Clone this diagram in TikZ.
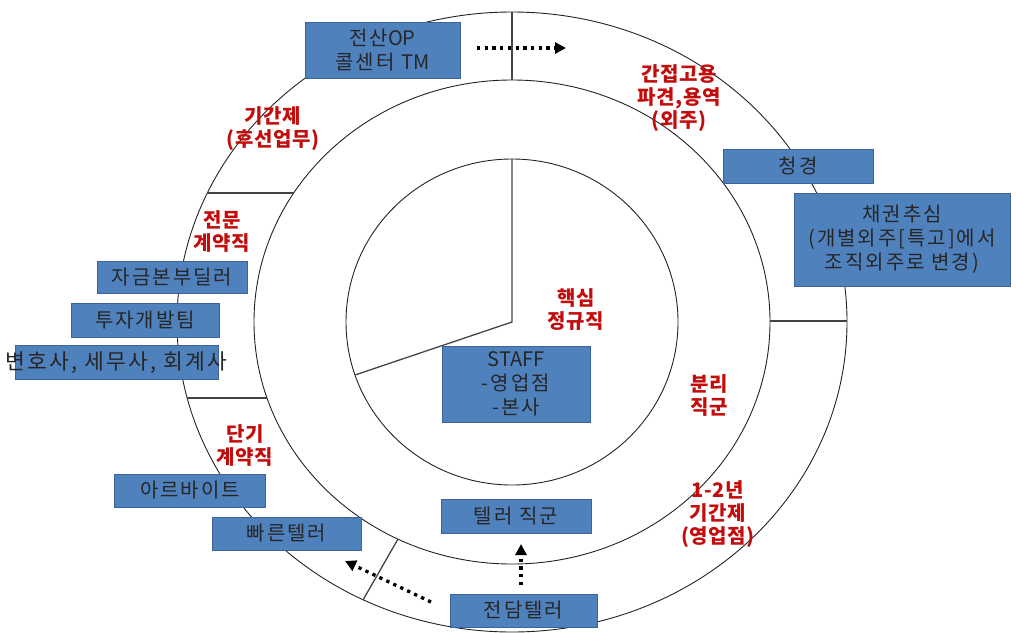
\documentclass[tikz,border=0pt]{standalone}
\usepackage{fontspec}
\setmainfont{Noto Sans CJK KR}[LetterSpace=10]
\newfontfamily\redfont{Noto Sans CJK KR}[LetterSpace=3]
\newfontfamily\latfont{Noto Sans CJK KR}
\newcommand{\lat}[1]{{\latfont #1}}
\usetikzlibrary{arrows.meta}
\definecolor{boxblue}{RGB}{79,129,189}
\definecolor{boxedge}{RGB}{60,100,155}
\definecolor{lbred}{RGB}{195,12,12}
\definecolor{ringgray}{RGB}{35,35,35}
\tikzset{
  blbox/.style={draw=boxedge, line width=0.6pt, fill=boxblue, text=black!85, inner sep=0pt, align=center, font=\fontsize{20}{24}\selectfont},
  rlabel/.style={text=lbred, align=center, inner sep=0pt, font=\redfont\bfseries\fontsize{20}{23}\selectfont},
  ring/.style={draw=ringgray, line width=0.9pt},
  sepline/.style={draw=ringgray!85, line width=1.3pt},
  dotarrow/.style={line width=3.3pt, dash pattern=on 3.3pt off 4.4pt, -{Triangle[length=11pt,width=11pt]}}
}
\begin{document}
\begin{tikzpicture}[x=1pt,y=-1pt]
\useasboundingbox (0,0) rectangle (1016,632);
\coordinate (c) at (512,322);
% rings
\draw[ring] (c) ellipse [x radius=335pt, y radius=310pt];
\draw[ring] (c) ellipse [x radius=258pt, y radius=242pt];
\draw[ring] (c) ellipse [x radius=166pt, y radius=163pt];
% separators in outer ring
\draw[sepline] (512,12) -- (512,80);
\draw[sepline] (207.4,193) -- (293.7,193);
\draw[sepline] (187.2,398) -- (267.1,398);
\draw[sepline] (770,321) -- (847,321);
\draw[sepline] (363,600) -- (398,539);
% inner pie lines
\draw[sepline] (512,159) -- (c) -- (355,375);
% boxes
\node[blbox, minimum width=155pt, minimum height=56pt] (jeonsan) at (382.5,50) {전산\lat{OP}\\콜센터 \lat{TM}};
\node[blbox, minimum width=150pt, minimum height=34pt] (cheong) at (798,166) {청경};
\node[blbox, minimum width=216pt, minimum height=93pt] (chae) at (902,239.5) {채권추심\\(개별외주[특고]에서\\조직외주로 변경)};
\node[blbox, minimum width=150pt, minimum height=32pt] (jageum) at (172,277) {자금본부딜러};
\node[blbox, minimum width=148pt, minimum height=34pt] (tuja) at (145,320) {투자개발팀};
\node[blbox, minimum width=203pt, minimum height=34pt] (byeon) at (116.5,362.5) {\makebox[0pt][c]{\fontsize{21.5}{24}\selectfont 변호사, 세무사, 회계사}};
\node[blbox, minimum width=148pt, minimum height=76pt] (staff) at (516,384) {\lat{STAFF}\\-영업점\\-본사};
\node[blbox, minimum width=151pt, minimum height=33pt] (arbeit) at (190,490.5) {아르바이트};
\node[blbox, minimum width=149pt, minimum height=33pt] (ppareun) at (286.5,533.5) {빠른텔러};
\node[blbox, minimum width=150pt, minimum height=34pt] (teller) at (516,516) {텔러 직군};
\node[blbox, minimum width=147pt, minimum height=33pt] (jeondam) at (523.5,610.5) {전담텔러};
% red labels
\node[rlabel] (l1) at (273,129) {기간제\\(후선업무)};
\node[rlabel] (l2) at (679,98.5) {간접고용\\파견,용역\\(외주)};
\node[rlabel] (l3) at (222,232) {전문\\계약직};
\node[rlabel] (l4) at (576,309.5) {핵심\\정규직};
\node[rlabel] (l5) at (709,395) {분리\\직군};
\node[rlabel] (l6) at (245,446) {단기\\계약직};
\node[rlabel] (l7) at (718,514.5) {1-2년\\기간제\\(영업점)};
% dotted arrows
\coordinate (a1s) at (477,48);
\coordinate (a1e) at (566,48);
\draw[dotarrow] (a1s) -- (a1e);
\coordinate (a2s) at (521,585);
\coordinate (a2e) at (521,544);
\draw[dotarrow] (a2s) -- (a2e);
\coordinate (a3s) at (431,602);
\coordinate (a3e) at (345,561);
\draw[dotarrow] (a3s) -- (a3e);
\end{tikzpicture}
\end{document}
